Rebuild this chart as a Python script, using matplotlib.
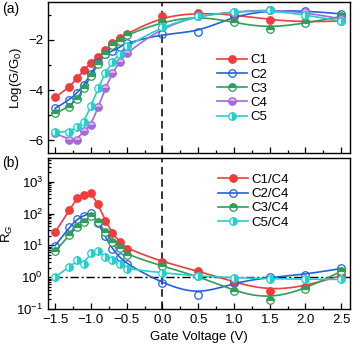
import numpy as np
import matplotlib
matplotlib.use("Agg")
import matplotlib.pyplot as plt
from matplotlib.ticker import MultipleLocator, LogLocator, NullFormatter

plt.rcParams["font.family"] = ["Liberation Sans", "DejaVu Sans"]
plt.rcParams["mathtext.fontset"] = "custom"
plt.rcParams["mathtext.rm"] = "Liberation Sans"
plt.rcParams["mathtext.it"] = "Liberation Sans:italic"

# gate voltage (V)
vg = [-1.5, -1.3, -1.2, -1.1, -1.0, -0.9, -0.8, -0.7, -0.6, -0.5,
      0.0, 0.5, 1.0, 1.5, 2.0, 2.5]

# (a) Log(G/G0)
c1 = [-4.28, -3.89, -3.53, -3.21, -2.92, -2.68, -2.42, -2.13, -1.93, -1.76,
      -1.07, -0.93, -1.00, -1.21, -1.30, -1.25]
c2 = [-4.72, -4.39, -4.13, -3.80, -3.34, -2.88, -2.55, -2.45, -2.29, -2.13,
      -1.76, -1.70, -1.05, -0.82, -0.84, -0.97]
c3 = [-4.92, -4.66, -4.37, -3.93, -3.45, -2.95, -2.58, -2.22, -2.03, -1.80,
      -1.28, -1.05, -1.30, -1.56, -1.34, -1.07]
c4 = [-5.72, -5.97, -5.97, -5.64, -5.38, -4.68, -3.93, -3.32, -2.88, -2.51,
      -1.50, -1.05, -0.88, -0.80, -0.90, -1.17]
c5 = [-5.67, -5.67, -5.45, -5.28, -4.63, -3.93, -3.32, -2.88, -2.55, -2.25,
      -1.47, -1.04, -0.90, -0.82, -1.00, -1.26]

# (b) R_G ratios
r1 = [26, 131, 302, 383, 455, 196, 60, 24.5, 12.8, 7.9,
      3.0, 1.54, 0.70, 0.36, 0.50, 1.13]
r2 = [9.8, 37, 66, 85, 107, 50, 19, 7.7, 4.3, 2.6,
      0.63, 0.27, 0.67, 1.0, 1.2, 1.87]
r3 = [6.5, 21.5, 37, 56, 85, 56, 25.5, 13, 8.3, 5.1,
      2.2, 1.07, 0.37, 0.19, 0.41, 1.54]
r5 = [1.0, 2.1, 3.4, 2.6, 5.9, 6.5, 4.3, 3.4, 2.5, 1.8,
      1.37, 1.07, 0.96, 0.89, 0.85, 0.85]

red, blue, green, purple, cyan = "#f03c3c", "#1f62dc", "#2e9e58", "#a56ad8", "#22d0cc"
MS = 5.4


def bspline(x, y, num=400):
    # clamped cubic B-spline using the points as control points
    p = np.column_stack([x, y]).astype(float)
    n = len(p)
    k = 3
    t = np.concatenate([np.zeros(k), np.arange(n - k + 1), np.full(k, n - k)]).astype(float)
    us = np.linspace(0, n - k, num)
    out = []
    for u in us:
        j = min(int(np.searchsorted(t, u, side="right")) - 1, n - 1)
        d = [p[i].copy() for i in range(j - k, j + 1)]
        for r in range(1, k + 1):
            for i in range(k, r - 1, -1):
                den = t[i + 1 + j - r] - t[i + j - k]
                a = 0.0 if den == 0 else (u - t[i + j - k]) / den
                d[i] = (1 - a) * d[i - 1] + a * d[i]
        out.append(d[k])
    out = np.array(out)
    return out[:, 0], out[:, 1]


def draw(ax, y, color, label, fill, alt="white", log=False):
    if log:
        sx, sy = bspline(vg, np.log10(y))
        sy = 10 ** sy
    else:
        sx, sy = bspline(vg, y)
    style = dict(marker="o", ms=MS, color=color, mec=color, mew=0.9,
                 fillstyle=fill, mfc=color if fill != "none" else "white",
                 markerfacecoloralt=alt)
    ax.plot(sx, sy, color=color, lw=1.2, zorder=2)
    ax.plot(vg, y, ls="none", zorder=3, **style)
    ax.plot([], [], lw=1.2, label=label, **style)


fig = plt.figure(figsize=(3.53, 3.51), dpi=100)
ax1 = fig.add_axes([0.136, 0.564, 0.855, 0.430])
ax2 = fig.add_axes([0.136, 0.120, 0.855, 0.430])

draw(ax1, c1, red, "C1", "full")
draw(ax1, c2, blue, "C2", "none")
draw(ax1, c3, green, "C3", "top")
draw(ax1, c4, purple, "C4", "bottom", alt="#d8b8f2")
draw(ax1, c5, cyan, "C5", "right")

draw(ax2, r1, red, "C1/C4", "full", log=True)
draw(ax2, r2, blue, "C2/C4", "none", log=True)
draw(ax2, r3, green, "C3/C4", "top", log=True)
draw(ax2, r5, cyan, "C5/C4", "right", log=True)

legend_style = dict(loc="upper left", frameon=False, fontsize=9.5,
                    handlelength=2.3, handletextpad=0.25, labelspacing=0.15,
                    borderaxespad=0, borderpad=0)

for ax in (ax1, ax2):
    ax.axvline(0, color="black", ls=(0, (5, 3)), lw=1.1, zorder=1)
    ax.set_xlim(-1.6, 2.62)
    ax.xaxis.set_major_locator(MultipleLocator(0.5))
    ax.xaxis.set_minor_locator(MultipleLocator(0.25))
    ax.tick_params(which="both", direction="in", labelsize=9.5, width=0.9)
    ax.tick_params(which="major", length=4)
    ax.tick_params(which="minor", length=2.5)
    for s in ax.spines.values():
        s.set_linewidth(1.0)

ax1.set_ylim(-6.5, -0.5)
ax1.yaxis.set_major_locator(MultipleLocator(2))
ax1.yaxis.set_minor_locator(MultipleLocator(1))
ax1.tick_params(labelbottom=False)
ax1.set_ylabel("Log(G/G$_0$)", fontsize=9.5, labelpad=3)
ax1.legend(bbox_to_anchor=(0.56, 0.655), **legend_style)

ax2.set_yscale("log")
ax2.set_ylim(0.1, 10 ** 3.75)
ax2.yaxis.set_major_locator(LogLocator(base=10, numticks=10))
ax2.yaxis.set_minor_locator(LogLocator(base=10, subs=np.arange(2, 10), numticks=10))
ax2.yaxis.set_minor_formatter(NullFormatter())
ax2.axhline(1, xmin=0.02, color="black", ls=(0, (6, 2, 1.5, 2)), lw=1.0, zorder=1)
ax2.set_ylabel("R$_G$", fontsize=9.5, labelpad=1)
ax2.set_xlabel("Gate Voltage (V)", fontsize=9.5, labelpad=4)
ax2.legend(bbox_to_anchor=(0.563, 0.895), **legend_style)

fig.text(0.005, 0.975, "(a)", fontsize=10, va="center")
fig.text(0.005, 0.537, "(b)", fontsize=10, va="center")

fig.savefig("out.png", dpi=100)
